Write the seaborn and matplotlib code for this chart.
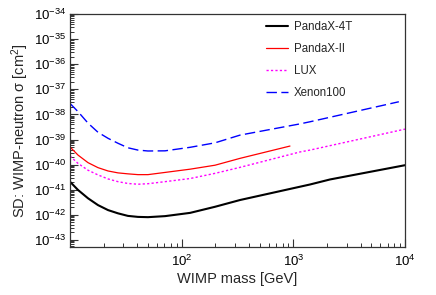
import numpy as np
import pandas as pd
import matplotlib
matplotlib.use("Agg")
import matplotlib.pyplot as plt
import seaborn as sns
from matplotlib.ticker import LogLocator, NullFormatter

# ---- data ----
pandax4t_mass = [10, 11.8, 14.5, 17.8, 21.9, 26.9, 33, 40.6, 49.9, 71, 119, 199,
                 333, 1410, 2130, 10000]
pandax4t_sd = [2.09e-41, 9.8e-42, 4.57e-42, 2.45e-42, 1.55e-42, 1.15e-42, 9.1e-43,
               8.3e-43, 8.1e-43, 8.9e-43, 1.2e-42, 2.1e-42, 3.9e-42, 1.62e-41,
               2.57e-41, 9.5e-41]

pandax2_mass = [10, 11.8, 14.5, 17.8, 21.9, 26.9, 33, 40.6, 49.9, 71, 119, 199,
                333, 933]
pandax2_sd = [5.1e-40, 2.4e-40, 1.2e-40, 7.6e-41, 5.6e-41, 4.7e-41, 4.3e-41,
              4.0e-41, 4.0e-41, 4.9e-41, 6.6e-41, 9.5e-41, 1.78e-40, 5.5e-40]

lux_mass = [10, 11.8, 14.5, 17.8, 21.9, 26.9, 33, 40.6, 49.9, 71, 119, 199,
            333, 1146, 1410, 10000]
lux_sd = [2.19e-40, 1.12e-40, 6.0e-41, 3.9e-41, 2.7e-41, 2.1e-41, 1.78e-41,
          1.66e-41, 1.74e-41, 2.1e-41, 2.8e-41, 4.5e-41, 7.8e-41, 3.2e-40,
          3.8e-40, 2.6e-39]

xenon100_mass = [10, 11.8, 14.5, 17.8, 21.9, 26.9, 33, 40.6, 49.9, 71, 119, 199,
                 333, 1146, 1410, 8810]
xenon100_sd = [2.75e-38, 1.29e-38, 4.5e-39, 1.95e-39, 1.12e-39, 7.1e-40, 4.7e-40,
               3.8e-40, 3.5e-40, 3.55e-40, 4.9e-40, 7.4e-40, 1.5e-39, 4.2e-39,
               5.1e-39, 3.2e-38]

labels = ["PandaX-4T", "PandaX-II", "LUX", "Xenon100"]
x_ticklabels = ["$10^{2}$", "$10^{3}$", "$10^{4}$"]

# ---- style ----
sns.set_style("white")
plt.rcParams["font.family"] = ["Liberation Sans", "DejaVu Sans"]
plt.rcParams["mathtext.fontset"] = "custom"
plt.rcParams["mathtext.rm"] = "Liberation Sans"
plt.rcParams["mathtext.it"] = "Liberation Sans:italic"

fig = plt.figure(figsize=(4.36, 2.95), dpi=100)
ax = fig.add_axes([70 / 436, 48 / 295, 335 / 436, 233 / 295])

series = [
    (pandax4t_mass, pandax4t_sd, labels[0], "black", 1.5, "-"),
    (pandax2_mass, pandax2_sd, labels[1], "#ff0000", 0.9, "-"),
    (lux_mass, lux_sd, labels[2], "#ff00ff", 1.0, (0, (1.6, 1.6))),
    (xenon100_mass, xenon100_sd, labels[3], "#0000ff", 1.0, (0, (7.5, 3.2))),
]
for m, s, lab, c, lw, ls in series:
    df = pd.DataFrame({"mass": m, "sd": s})
    sns.lineplot(data=df, x="mass", y="sd", ax=ax, color=c, linewidth=lw,
                 linestyle=ls, label=lab, estimator=None, sort=False)

ax.set_xscale("log")
ax.set_yscale("log")
ax.set_xlim(10, 1e4)
ax.set_ylim(10 ** -43.28, 1e-34)

ax.set_xticks([1e2, 1e3, 1e4])
ax.set_xticklabels(x_ticklabels)
ax.xaxis.set_minor_locator(LogLocator(base=10, subs=np.arange(2, 10), numticks=20))
ax.xaxis.set_minor_formatter(NullFormatter())
ax.set_yticks([10.0 ** e for e in range(-43, -33)])
ax.yaxis.set_minor_locator(LogLocator(base=10, subs=np.arange(2, 10), numticks=30))
ax.yaxis.set_minor_formatter(NullFormatter())

ax.tick_params(axis="both", which="major", direction="in", length=6, width=0.8,
               color="#333333", labelsize=9.5, labelcolor="black", pad=3,
               bottom=True, left=True, top=False, right=False)
ax.tick_params(axis="both", which="minor", direction="in", length=3, width=0.7,
               color="#333333", bottom=True, left=True, top=False, right=False)
ax.tick_params(axis="x", which="major", pad=5)

for sp in ax.spines.values():
    sp.set_color("#333333")
    sp.set_linewidth(0.9)

ax.set_xlabel("WIMP mass [GeV]", fontsize=10.5, labelpad=2)
ax.set_ylabel("SD: WIMP-neutron σ [cm$^{2}$]", fontsize=10.5, labelpad=2)

leg = ax.legend(loc="upper left", bbox_to_anchor=(0.585, 0.968), frameon=False,
                fontsize=8.3, handlelength=1.9, handletextpad=0.5,
                labelspacing=0.85, borderaxespad=0, borderpad=0)

fig.savefig("out.png", dpi=100, facecolor="white")
